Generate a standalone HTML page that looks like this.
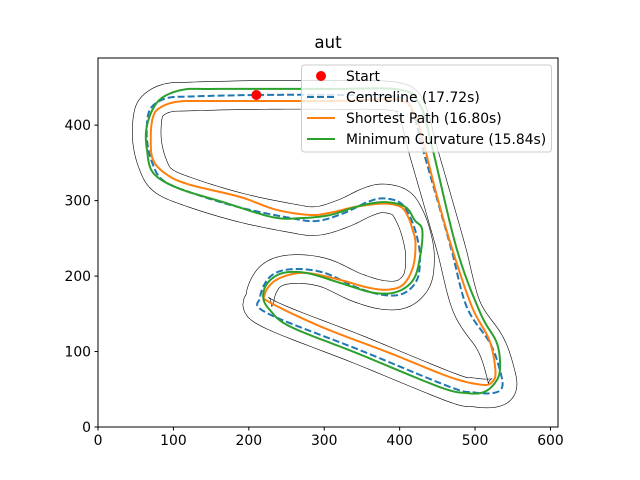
<!DOCTYPE html>
<html><head><meta charset="utf-8"><style>
html,body{margin:0;padding:0;background:#fff;}
svg{display:block;font-family:"DejaVu Sans","Liberation Sans",sans-serif;}
</style></head><body>
<svg id="chart" width="640" height="480" viewBox="0 0 640 480">
<rect x="0" y="0" width="640" height="480" fill="#fff"/>
<text x="328" y="48" font-size="16.7" text-anchor="middle">aut</text>
<g id="plot"></g>
<rect x="98" y="58" width="460" height="369" fill="none" stroke="#000" stroke-width="1"/>
<g id="ticks"></g>
<g id="legend">
<rect x="301.5" y="65" width="250" height="87" rx="3" fill="#fff" fill-opacity="0.8" stroke="#ccc" stroke-width="1"/>
<circle cx="321" cy="76" r="5" fill="#ff0000"/>
<text x="346" y="81" font-size="13.9">Start</text>
<line x1="307" y1="97" x2="335" y2="97" stroke="#1f77b4" stroke-width="2" stroke-dasharray="7,3"/>
<text x="346" y="102" font-size="13.9">Centreline (17.72s)</text>
<line x1="307" y1="118" x2="335" y2="118" stroke="#ff7f0e" stroke-width="2"/>
<text x="346" y="123" font-size="13.9">Shortest Path (16.80s)</text>
<line x1="307" y1="139" x2="335" y2="139" stroke="#2ca02c" stroke-width="2"/>
<text x="346" y="144" font-size="13.9">Minimum Curvature (15.84s)</text>
</g>
</svg>
<script>
const centreX=[211,308,394,416,431,450,469,489,520,533,536,524,497,467,347,224,215,228,255,298,343,378,405,423,427,423,414,401,378,357,325,290,255,188,122,86,72,65,66,73,92,122];
const centreY=[440,440,438,420,367,301,234,159,111,75,53,45,46,53,102,151,172,199,209,205,185,175,177,195,225,252,278,297,303,298,283,273,277,291,311,327,350,380,411,426,436,438];
const shortX=[149,308,400,420,429,449,470,496,519,527,523,509,467,387,298,228,221,231,251,278,321,357,384,405,418,421,417,411,401,378,343,308,281,236,188,122,92,73,70,73,82,105];
const shortY=[432,432,433,413,387,308,235,159,115,75,60,56,66,98,132,165,175,191,201,204,195,185,182,189,213,244,262,279,292,296,292,284,281,288,305,321,334,354,385,411,423,431];
const minX=[149,308,400,427,444,476,507,529,533,526,511,489,453,343,255,228,219,225,245,277,321,365,396,418,427,430,420,407,378,343,308,272,232,166,105,73,65,64,72,86,113];
const minY=[448,448,447,427,367,235,151,111,76,58,46,45,53,98,133,155,172,191,204,204,191,178,179,195,225,261,274,292,298,292,281,277,278,298,317,337,367,394,420,437,447];
const startX=[210];
const startY=[440];
const xTicks=[0,100,200,300,400,500,600];
const yTicks=[0,100,200,300,400];
const trackHalfWidth=19;

const NS="http://www.w3.org/2000/svg";
const X0=98,X1=558,Y0=427,Y1=58,XMAX=610,YMAX=489;
function sx(v){return X0+v/XMAX*(X1-X0);}
function sy(v){return Y0-v/YMAX*(Y0-Y1);}
const plot=document.getElementById('plot');
const ticks=document.getElementById('ticks');

// Closed Catmull-Rom sampling in data space
function smooth(xs,ys,n){
  const out=[];const N=xs.length;
  for(let i=0;i<N;i++){
    const p0=i-1<0?N-1:i-1,p1=i,p2=(i+1)%N,p3=(i+2)%N;
    for(let k=0;k<n;k++){
      const t=k/n,t2=t*t,t3=t2*t;
      const f=(a,b,c,d)=>0.5*((2*b)+(-a+c)*t+(2*a-5*b+4*c-d)*t2+(-a+3*b-3*c+d)*t3);
      out.push([f(xs[p0],xs[p1],xs[p2],xs[p3]),f(ys[p0],ys[p1],ys[p2],ys[p3])]);
    }
  }
  return out;
}
function pathD(pts){
  return pts.map((p,i)=>(i?'L':'M')+sx(p[0]).toFixed(2)+','+sy(p[1]).toFixed(2)).join('')+'Z';
}
function offset(pts,d){
  const N=pts.length,out=[];
  for(let i=0;i<N;i++){
    const a=pts[(i-3+N)%N],b=pts[(i+3)%N];
    let dx=b[0]-a[0],dy=b[1]-a[1];const L=Math.hypot(dx,dy)||1;
    out.push([pts[i][0]-dy/L*d,pts[i][1]+dx/L*d]);
  }
  return out;
}
function addPath(d,stroke,w,dash,name){
  const p=document.createElementNS(NS,'path');
  p.setAttribute('d',d);p.setAttribute('fill','none');p.setAttribute('stroke',stroke);
  p.setAttribute('stroke-width',w);p.setAttribute('stroke-linejoin','round');
  if(dash)p.setAttribute('stroke-dasharray',dash);
  
  
  plot.appendChild(p);
}
const cPts=smooth(centreX,centreY,10);
addPath(pathD(offset(cPts,trackHalfWidth)),'#000',0.6,null,'track-boundary-left');
addPath(pathD(offset(cPts,-trackHalfWidth)),'#000',0.6,null,'track-boundary-right');
addPath(pathD(cPts),'#1f77b4',2,'7,3','centreline');
addPath(pathD(smooth(shortX,shortY,10)),'#ff7f0e',2,null,'shortest-path');
addPath(pathD(smooth(minX,minY,10)),'#2ca02c',2,null,'minimum-curvature-path');
for(let i=0;i<startX.length;i++){
  const c=document.createElementNS(NS,'circle');
  c.setAttribute('cx',sx(startX[i]));c.setAttribute('cy',sy(startY[i]));c.setAttribute('r',5);c.setAttribute('fill','#ff0000');
  
  
  plot.appendChild(c);
}
xTicks.forEach(v=>{
  const l=document.createElementNS(NS,'line');
  l.setAttribute('x1',sx(v));l.setAttribute('x2',sx(v));l.setAttribute('y1',Y0);l.setAttribute('y2',Y0+3.5);l.setAttribute('stroke','#000');
  
  
  ticks.appendChild(l);
  const t=document.createElementNS(NS,'text');
  t.setAttribute('x',sx(v));t.setAttribute('y',Y0+18);t.setAttribute('font-size','13.9');t.setAttribute('text-anchor','middle');
  t.textContent=v;
  
  
  ticks.appendChild(t);
});
yTicks.forEach(v=>{
  const l=document.createElementNS(NS,'line');
  l.setAttribute('x1',X0-3.5);l.setAttribute('x2',X0);l.setAttribute('y1',sy(v));l.setAttribute('y2',sy(v));l.setAttribute('stroke','#000');
  
  
  ticks.appendChild(l);
  const t=document.createElementNS(NS,'text');
  t.setAttribute('x',X0-7);t.setAttribute('y',sy(v)+5);t.setAttribute('font-size','13.9');t.setAttribute('text-anchor','end');
  t.textContent=v;
  
  
  ticks.appendChild(t);
});
</script>
</body></html>
